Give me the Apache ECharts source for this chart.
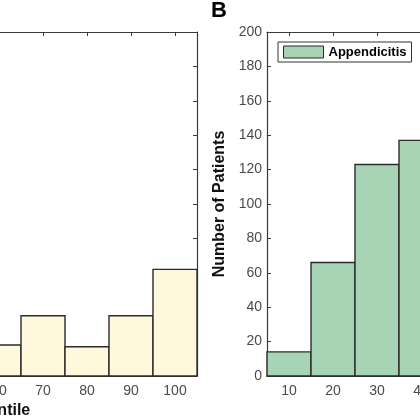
<!DOCTYPE html>
<html>
<head>
<meta charset="utf-8">
<script src="https://cdn.jsdelivr.net/npm/echarts@6/dist/echarts.min.js"></script>
<style>html,body{margin:0;padding:0;background:#fff;}#c{width:420px;height:420px;}</style>
</head>
<body>
<div id="c"></div>
<script>
// Panel A (percentile histogram; only bins 60-100 are visible in the crop)
const percentileBins = [60, 70, 80, 90, 100];
const percentileCounts = [18, 35, 17, 35, 62];
// Panel B (appendicitis histogram; bins 10-40 visible)
const ageBins = [10, 20, 30, 40];
const appendicitisCounts = [14, 66, 123, 137];
const xTickValues = [10, 20, 30, 40, 50, 60, 70, 80, 90, 100];
const binWidth = 10;

const FONT = 'Liberation Sans, Arial, Helvetica, sans-serif';
const AX = '#3a3a3a';
const LAB = '#4a4a4a';

function histRender(fill) {
  return function (params, api) {
    const x = api.value(0), y = api.value(1);
    const p0 = api.coord([x - binWidth / 2, y]);
    const p1 = api.coord([x + binWidth / 2, 0]);
    return {
      type: 'rect',
      shape: { x: p0[0], y: p0[1], width: p1[0] - p0[0], height: p1[1] - p0[1] },
      style: { fill: fill, stroke: '#2b2b2b', lineWidth: 1.4 }
    };
  };
}

function xAxes(gi, name) {
  return [
    {
      gridIndex: gi, type: 'value', position: 'bottom', min: 5, max: 105,
      name: name, nameLocation: 'middle', nameGap: 27,
      nameTextStyle: { fontFamily: FONT, fontSize: 16, fontWeight: 'bold', color: '#111', padding: [0, 0, 0, 30] },
      axisLine: { show: true, lineStyle: { color: AX, width: 1.2 } },
      axisTick: { show: true, inside: true, length: 4, customValues: xTickValues, lineStyle: { color: AX } },
      axisLabel: { show: true, customValues: xTickValues, margin: 8, fontFamily: FONT, fontSize: 14, color: LAB },
      splitLine: { show: false }
    },
    {
      gridIndex: gi, type: 'value', position: 'top', min: 5, max: 105,
      axisLine: { show: true, onZero: false, lineStyle: { color: AX, width: 1.2 } },
      axisTick: { show: true, inside: true, length: 4, customValues: xTickValues, lineStyle: { color: AX } },
      axisLabel: { show: false },
      splitLine: { show: false }
    }
  ];
}

function yAxes(gi, name) {
  return [
    {
      gridIndex: gi, type: 'value', position: 'left', min: 0, max: 200, interval: 20,
      name: name, nameLocation: 'middle', nameGap: 34,
      nameTextStyle: { fontFamily: FONT, fontSize: 16, fontWeight: 'bold', color: '#111' },
      axisLine: { show: true, onZero: false, lineStyle: { color: AX, width: 1.2 } },
      axisTick: { show: true, inside: true, length: 4, lineStyle: { color: AX } },
      axisLabel: { show: true, margin: 5, fontFamily: FONT, fontSize: 14, color: LAB },
      splitLine: { show: false }
    },
    {
      gridIndex: gi, type: 'value', position: 'right', min: 0, max: 200, interval: 20,
      axisLine: { show: true, onZero: false, lineStyle: { color: AX, width: 1.2 } },
      axisTick: { show: true, inside: true, length: 4, lineStyle: { color: AX } },
      axisLabel: { show: false },
      splitLine: { show: false }
    }
  ];
}

const chart = echarts.init(document.getElementById('c'), null, { renderer: 'canvas' });
chart.setOption({
  animation: false,
  backgroundColor: '#fff',
  title: {
    text: 'B', left: 211, top: 0, padding: 0,
    textStyle: { fontFamily: FONT, fontSize: 22, fontWeight: 'bold', color: '#000' }
  },
  legend: {
    data: [{ name: 'Appendicitis', itemStyle: { color: '#a6d4b4', borderColor: '#2b2b2b', borderWidth: 1 } }],
    left: 278, top: 42, orient: 'horizontal',
    padding: [3, 5, 3, 5],
    itemWidth: 40, itemHeight: 12,
    icon: 'rect',
    backgroundColor: '#fff', borderColor: '#333', borderWidth: 1,
    textStyle: { fontFamily: FONT, fontSize: 13, fontWeight: 'bold', color: '#000', lineHeight: 14 }
  },
  grid: [
    { left: -243, top: 32, width: 440, height: 344, containLabel: false, outerBoundsMode: 'none' },
    { left: 267, top: 32, width: 440, height: 344, containLabel: false, outerBoundsMode: 'none' }
  ],
  xAxis: [].concat(xAxes(0, 'Percentile'), xAxes(1, '')),
  yAxis: [].concat(yAxes(0, 'Number of Patients'), yAxes(1, 'Number of Patients')),
  series: [
    {
      name: 'Percentile', type: 'custom', xAxisIndex: 0, yAxisIndex: 0,
      renderItem: histRender('#fff8dc'),
      itemStyle: { color: '#fff8dc' },
      encode: { x: 0, y: 1 },
      data: percentileBins.map((b, i) => [b, percentileCounts[i]])
    },
    {
      name: 'Appendicitis', type: 'custom', xAxisIndex: 2, yAxisIndex: 2,
      renderItem: histRender('#a6d4b4'),
      itemStyle: { color: '#a6d4b4', borderColor: '#2b2b2b', borderWidth: 1 },
      encode: { x: 0, y: 1 },
      data: ageBins.map((b, i) => [b, appendicitisCounts[i]])
    }
  ]
});
</script>
</body>
</html>
